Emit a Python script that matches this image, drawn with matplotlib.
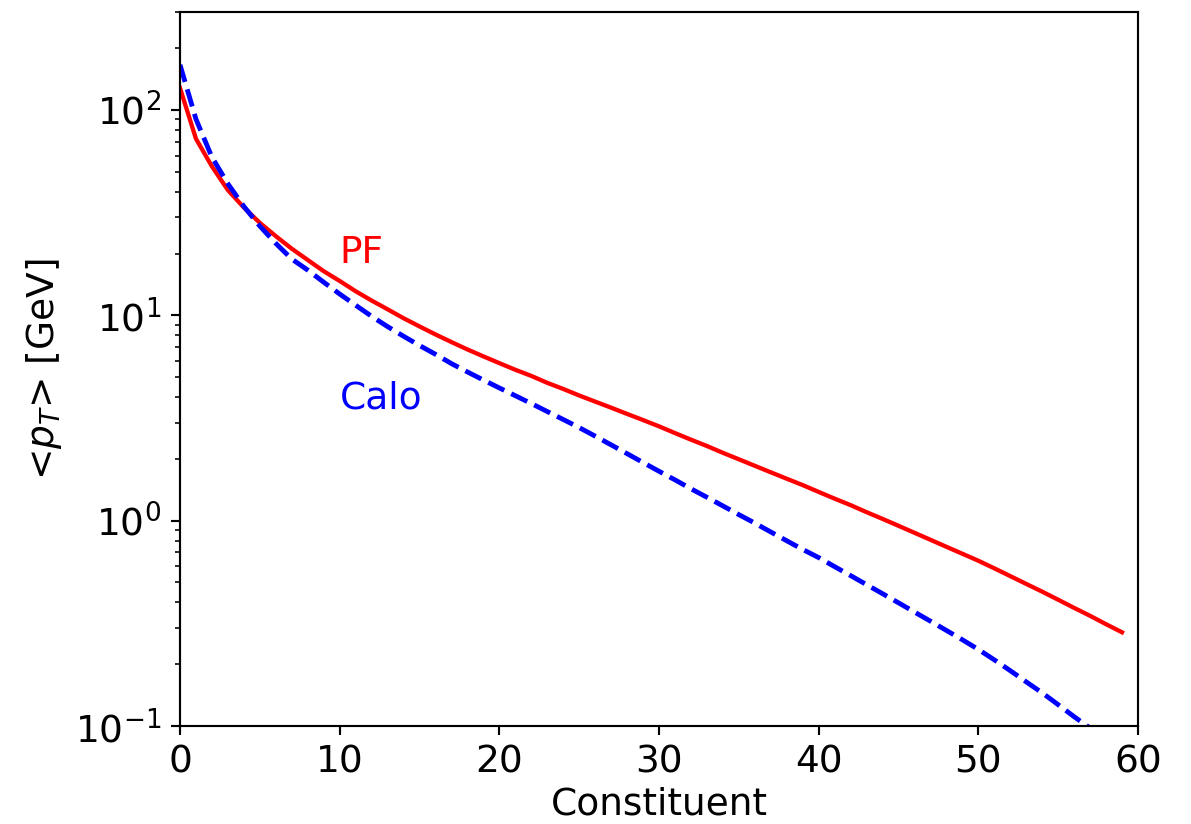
import matplotlib
matplotlib.use('Agg')
import matplotlib.pyplot as plt
import numpy as np

# mean pT of the n-th leading jet constituent
constituent = np.arange(60)

pt_pf = [128, 72.4, 53.1, 40.7, 33.5, 28.2, 24.3, 21.1, 18.6, 16.4,
         14.7, 13.1, 11.8, 10.7, 9.68, 8.83, 8.07, 7.41, 6.82, 6.31,
         5.85, 5.43, 5.07, 4.69, 4.38, 4.07, 3.80, 3.55, 3.31, 3.09,
         2.88, 2.67, 2.48, 2.31, 2.14, 1.99, 1.85, 1.72, 1.60, 1.49,
         1.38, 1.28, 1.19, 1.10, 1.02, 0.944, 0.873, 0.807, 0.746, 0.690,
         0.638, 0.586, 0.537, 0.492, 0.451, 0.412, 0.376, 0.344, 0.313, 0.286]

pt_calo = [166, 90.2, 58.9, 43.7, 33.9, 27.2, 22.4, 18.8, 16.6, 14.5,
           12.7, 11.2, 9.89, 8.81, 7.91, 7.13, 6.46, 5.82, 5.30, 4.84,
           4.43, 4.06, 3.72, 3.40, 3.11, 2.84, 2.58, 2.34, 2.12, 1.92,
           1.74, 1.58, 1.43, 1.30, 1.18, 1.07, 0.973, 0.881, 0.798, 0.724,
           0.661, 0.597, 0.540, 0.488, 0.441, 0.398, 0.359, 0.324, 0.292, 0.263,
           0.236, 0.210, 0.186, 0.164, 0.145, 0.127, 0.111, 0.0977, 0.0855, 0.0746]

plt.rcParams['font.size'] = 14

fig = plt.figure(figsize=(1191/193, 824/193), dpi=193)
ax = fig.add_axes([180/1191, 98/824, 958/1191, 714/824])

ax.plot(constituent, pt_pf, color='red', lw=1.6)
ax.plot(constituent, pt_calo, color='blue', lw=1.8, ls='--')
ax.set_yscale('log')
ax.set_xlim(0, 60)
ax.set_ylim(0.1, 300)
ax.set_xlabel('Constituent', labelpad=2)
ax.set_ylabel('<$p_T$> [GeV]')

ax.text(10, 18, 'PF', color='red')
ax.text(10, 3.5, 'Calo', color='blue')

fig.savefig('out.png', dpi=193)
